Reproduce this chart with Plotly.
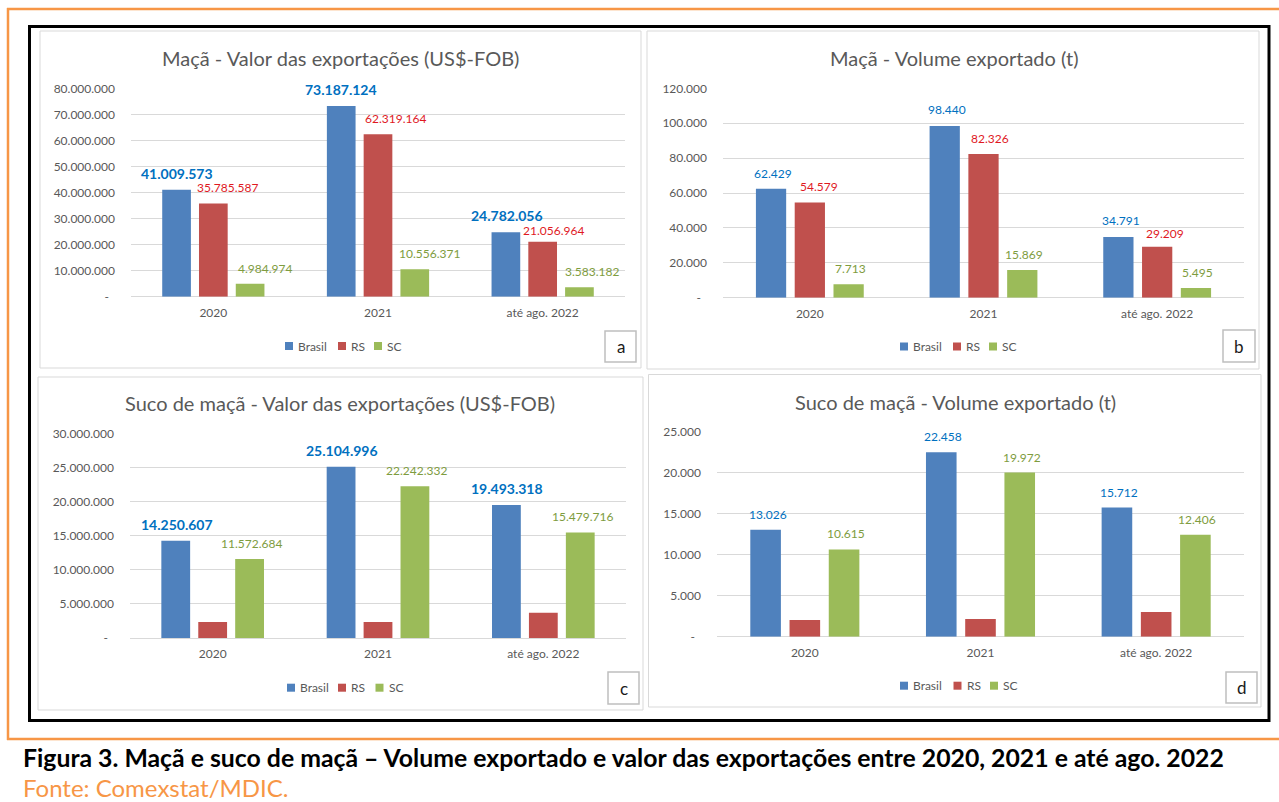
import plotly.graph_objects as go

W, H = 1279, 802

# ---------------- data ----------------
CATEGORIES = ["2020", "2021", "até ago. 2022"]
SERIES = ["Brasil", "RS", "SC"]

MACA_VALOR_BRASIL = [41009573, 73187124, 24782056]
MACA_VALOR_RS = [35785587, 62319164, 21056964]
MACA_VALOR_SC = [4984974, 10556371, 3583182]

MACA_VOLUME_BRASIL = [62429, 98440, 34791]
MACA_VOLUME_RS = [54579, 82326, 29209]
MACA_VOLUME_SC = [7713, 15869, 5495]

SUCO_VALOR_BRASIL = [14250607, 25104996, 19493318]
SUCO_VALOR_RS = [2350000, 2350000, 3700000]      # not labelled
SUCO_VALOR_SC = [11572684, 22242332, 15479716]

SUCO_VOLUME_BRASIL = [13026, 22458, 15712]
SUCO_VOLUME_RS = [2030, 2150, 3010]               # not labelled
SUCO_VOLUME_SC = [10615, 19972, 12406]

TICKVALS_A = [0, 10000000, 20000000, 30000000, 40000000, 50000000, 60000000, 70000000, 80000000]
TICKTEXT_A = ["-\u00a0\u00a0", "10.000.000", "20.000.000", "30.000.000", "40.000.000",
              "50.000.000", "60.000.000", "70.000.000", "80.000.000"]
TICKVALS_B = [0, 20000, 40000, 60000, 80000, 100000, 120000]
TICKTEXT_B = ["-\u00a0\u00a0", "20.000", "40.000", "60.000", "80.000", "100.000", "120.000"]
TICKVALS_C = [0, 5000000, 10000000, 15000000, 20000000, 25000000, 30000000]
TICKTEXT_C = ["-\u00a0\u00a0", "5.000.000", "10.000.000", "15.000.000", "20.000.000",
              "25.000.000", "30.000.000"]
TICKVALS_D = [0, 5000, 10000, 15000, 20000, 25000]
TICKTEXT_D = ["-\u00a0\u00a0", "5.000", "10.000", "15.000", "20.000", "25.000"]

TITLES = [
    "Maçã - Valor das exportações (US$-FOB)",
    "Maçã - Volume exportado (t)",
    "Suco de maçã - Valor das exportações (US$-FOB)",
    "Suco de maçã - Volume exportado (t)",
]
LETTERS = ["a", "b", "c", "d"]
CAPTION = "Figura 3. Maçã e suco de maçã – Volume exportado e valor das exportações entre 2020, 2021 e até ago. 2022"
SOURCE = "Fonte: Comexstat/MDIC."

# ---------------- styles ----------------
FONT = "Lato, 'Open Sans', sans-serif"
GRAY_TXT = "#595959"
GRID = "#D9D9D9"
ORANGE = "#F79646"
BAR_COLORS = ["#4F81BD", "#C0504D", "#9BBB59"]
LABEL_COLORS = ["#0070C0", "#E0191F", "#7E9C3E"]
BARGAP, GROUPGAP = 0.33, 0.22

def px(x):
    return x / W

def py(y):
    return 1 - y / H

def fmt(v):
    return f"{v:,}".replace(",", ".")

panels = [
    dict(data=[MACA_VALOR_BRASIL, MACA_VALOR_RS, MACA_VALOR_SC],
         tv=TICKVALS_A, tt=TICKTEXT_A, rng=[0, 80000000],
         plot=(131, 88.3, 625, 296.7), frame=(40, 31, 641, 368),
         title_xy=(340, 58), legend_x=[285, 338, 374], legend_y=346, letter_box=(605, 331, 636, 362),
         show=[True, True, True], bold_first=True,
         xshift=[[0, 0, 1], [14, 17, 11], [15, 15, 13]], yshift=[[6, 6, 6], [6, 6, 2], [6, 6, 6]]),
    dict(data=[MACA_VOLUME_BRASIL, MACA_VOLUME_RS, MACA_VOLUME_SC],
         tv=TICKVALS_B, tt=TICKTEXT_B, rng=[0, 120000],
         plot=(723, 88.3, 1244, 297.7), frame=(647, 31, 1259, 369),
         title_xy=(954, 58), legend_x=[900, 953, 989], legend_y=346.5, letter_box=(1223, 330, 1255, 362),
         show=[True, True, True], bold_first=False,
         xshift=[[2, 2, 3], [9, 6, 8], [2, 2, 2]], yshift=[[6, 7, 7], [6, 6, 4], [6, 6, 6]]),
    dict(data=[SUCO_VALOR_BRASIL, SUCO_VALOR_RS, SUCO_VALOR_SC],
         tv=TICKVALS_C, tt=TICKTEXT_C, rng=[0, 30000000],
         plot=(130, 433.3, 626, 638), frame=(38, 377, 643, 710),
         title_xy=(340, 403), legend_x=[287, 338, 375.5], legend_y=687.7, letter_box=(608, 672, 639, 704),
         show=[True, False, True], bold_first=True,
         xshift=[[1, 1, 1], [0, 0, 0], [2, 2, 2]], yshift=[[6, 6, 6], [6, 6, 6], [6, 6, 6]]),
    dict(data=[SUCO_VOLUME_BRASIL, SUCO_VOLUME_RS, SUCO_VOLUME_SC],
         tv=TICKVALS_D, tt=TICKTEXT_D, rng=[0, 25000],
         plot=(717, 431.3, 1244, 636.7), frame=(648.5, 374.5, 1261, 707),
         title_xy=(955, 402), legend_x=[900, 953.5, 990], legend_y=685.7, letter_box=(1226, 672, 1257, 703),
         show=[True, False, True], bold_first=False,
         xshift=[[2, 2, 2], [0, 0, 0], [2, 2, 2]], yshift=[[6, 6, 6], [6, 6, 6], [6, 6, 6]]),
]

fig = go.Figure()
layout = dict(
    width=W, height=H, margin=dict(l=0, r=0, t=0, b=0, pad=0, autoexpand=False),
    paper_bgcolor="white", plot_bgcolor="white",
    barmode="group", bargap=BARGAP, bargroupgap=GROUPGAP,
    font=dict(family=FONT, color=GRAY_TXT, size=12),
    showlegend=False,
)
annotations = []
shapes = []

# outer decoration
shapes.append(dict(type="line", xref="paper", yref="paper", x0=px(7), x1=px(1279), y0=py(9), y1=py(9),
                   line=dict(color=ORANGE, width=2.5)))
shapes.append(dict(type="line", xref="paper", yref="paper", x0=px(8), x1=px(8), y0=py(8), y1=py(740),
                   line=dict(color=ORANGE, width=2.5)))
shapes.append(dict(type="line", xref="paper", yref="paper", x0=px(7), x1=px(1279), y0=py(739), y1=py(739),
                   line=dict(color=ORANGE, width=2.5)))
shapes.append(dict(type="rect", xref="paper", yref="paper", x0=px(29.5), x1=px(1269), y0=py(26.5), y1=py(720.5),
                   line=dict(color="black", width=3), fillcolor="rgba(0,0,0,0)"))

for k, p in enumerate(panels):
    n = "" if k == 0 else str(k + 1)
    xa, ya = "x" + n, "y" + n
    l, t, r, b = p["plot"]
    layout["xaxis" + n] = dict(
        domain=[px(l), px(r)], anchor=ya, type="category", categoryarray=CATEGORIES,
        range=[-0.5, len(CATEGORIES) - 0.5], showgrid=False, zeroline=False, automargin=False,
        showline=False, ticks="", ticklabelstandoff=7, tickfont=dict(size=12, color=GRAY_TXT, family=FONT),
        fixedrange=True,
    )
    layout["yaxis" + n] = dict(
        domain=[py(b), py(t)], anchor=xa, range=p["rng"], tickvals=p["tv"], ticktext=p["tt"],
        showgrid=True, gridcolor=GRID, gridwidth=1, zeroline=True, zerolinecolor=GRID, zerolinewidth=1,
        showline=False, ticks="", ticklabelstandoff=15, tickfont=dict(size=12, color=GRAY_TXT, family=FONT),
        automargin=False, fixedrange=True,
    )
    cat_px = (r - l) / len(CATEGORIES)
    slot_px = cat_px * (1 - BARGAP) / len(SERIES)
    for i, (name, vals) in enumerate(zip(SERIES, p["data"])):
        fig.add_trace(go.Bar(
            x=CATEGORIES, y=vals, name=name, xaxis=xa, yaxis=ya, showlegend=False,
            marker=dict(color=BAR_COLORS[i], line=dict(width=0)), hoverinfo="x+y+name",
        ))
        # legend entry (square + name)
        sx = p["legend_x"][i]
        sy = p["legend_y"]
        shapes.append(dict(type="rect", xref="paper", yref="paper", x0=px(sx), x1=px(sx + 8),
                           y0=py(sy + 4), y1=py(sy - 4), line=dict(width=0), fillcolor=BAR_COLORS[i]))
        annotations.append(dict(x=px(sx + 11), y=py(sy), xref="paper", yref="paper", text=name,
                                showarrow=False, xanchor="left", yanchor="middle",
                                font=dict(size=12, color=GRAY_TXT, family=FONT)))
        if not p["show"][i]:
            continue
        for j, v in enumerate(vals):
            bold = p["bold_first"] and i == 0
            txt = f"<b>{fmt(v)}</b>" if bold else fmt(v)
            annotations.append(dict(
                x=j, y=v, xref=xa, yref=ya, text=txt, showarrow=False,
                xanchor="center", yanchor="bottom",
                xshift=(i - 1) * slot_px + p["xshift"][i][j], yshift=p["yshift"][i][j],
                font=dict(size=14 if bold else 12, color=LABEL_COLORS[i], family=FONT),
            ))
    # panel frame
    fl, ft, fr, fb = p["frame"]
    shapes.append(dict(type="rect", xref="paper", yref="paper", x0=px(fl), x1=px(fr), y0=py(ft), y1=py(fb),
                       line=dict(color=GRID, width=1), fillcolor="rgba(0,0,0,0)", layer="below"))
    # title
    tx, ty = p["title_xy"]
    annotations.append(dict(x=px(tx), y=py(ty), xref="paper", yref="paper", text=TITLES[k], showarrow=False,
                            xanchor="center", yanchor="middle",
                            font=dict(size=20, color=GRAY_TXT, family=FONT)))
    # letter box
    bl, bt, br, bb = p["letter_box"]
    shapes.append(dict(type="rect", xref="paper", yref="paper", x0=px(bl), x1=px(br), y0=py(bt), y1=py(bb),
                       line=dict(color="#BFBFBF", width=1.5), fillcolor="white"))
    annotations.append(dict(x=px((bl + br) / 2), y=py((bt + bb) / 2), xref="paper", yref="paper",
                            text=LETTERS[k], showarrow=False, xanchor="center", yanchor="middle",
                            font=dict(size=17, color="#1a1a1a", family=FONT)))

# caption
annotations.append(dict(x=px(21), y=py(757), xref="paper", yref="paper", text=f"<b>{CAPTION}</b>",
                        showarrow=False, xanchor="left", yanchor="middle",
                        font=dict(size=24.8, color="black", family=FONT)))
annotations.append(dict(x=px(21), y=py(787), xref="paper", yref="paper", text=SOURCE,
                        showarrow=False, xanchor="left", yanchor="middle",
                        font=dict(size=24, color=ORANGE, family=FONT)))

layout["annotations"] = annotations
layout["shapes"] = shapes
fig.update_layout(**layout)

POST = (
    "document.documentElement.style.margin='0';"
    "document.body.style.margin='0';document.body.style.padding='0';"
    "document.body.style.overflow='hidden';"
    "var g=document.getElementById('{plot_id}');"
    "g.style.position='fixed';g.style.left='0px';g.style.top='0px';"
)
fig.write_html("out.html", config={"displayModeBar": False}, post_script=POST)
